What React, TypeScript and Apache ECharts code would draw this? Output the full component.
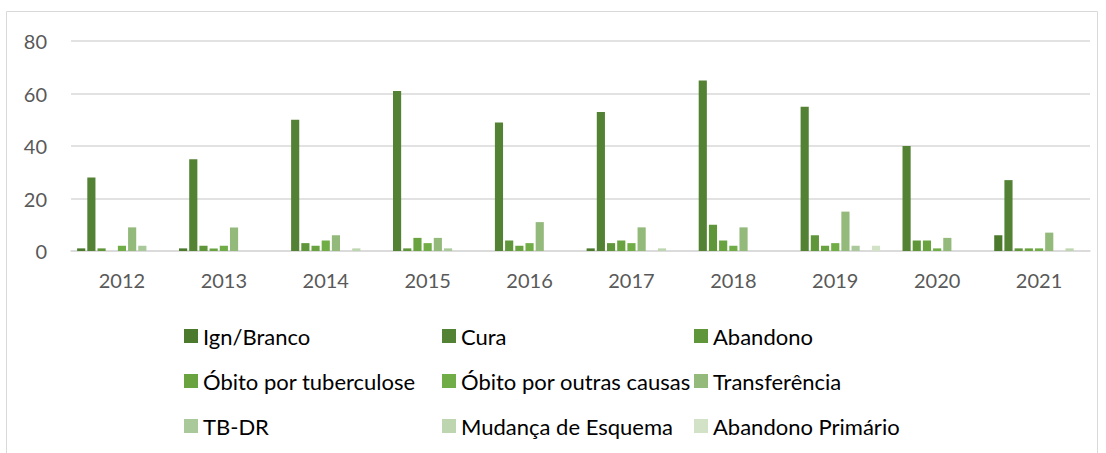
import React, { useEffect, useRef } from "react";
import * as echarts from "echarts";

const years = ["2012", "2013", "2014", "2015", "2016", "2017", "2018", "2019", "2020", "2021"];
const seriesNames = [
  "Ign/Branco",
  "Cura",
  "Abandono",
  "Óbito por tuberculose",
  "Óbito por outras causas",
  "Transferência",
  "TB-DR",
  "Mudança de Esquema",
  "Abandono Primário",
];
const ignBranco = [1, 1, 0, 0, 0, 1, 0, 0, 0, 6];
const cura = [28, 35, 50, 61, 49, 53, 65, 55, 40, 27];
const abandono = [1, 2, 3, 1, 4, 3, 10, 6, 4, 1];
const obitoTb = [0, 1, 2, 5, 2, 4, 4, 2, 4, 1];
const obitoOutras = [2, 2, 4, 3, 3, 3, 2, 3, 1, 1];
const transferencia = [9, 9, 6, 5, 11, 9, 9, 15, 5, 7];
const tbdr = [2, 0, 0, 1, 0, 0, 0, 2, 0, 0];
const mudanca = [0, 0, 1, 0, 0, 1, 0, 0, 0, 1];
const abandonoPrimario = [0, 0, 0, 0, 0, 0, 0, 2, 0, 0];
const yTicks = [0, 20, 40, 60, 80];

const seriesData = [ignBranco, cura, abandono, obitoTb, obitoOutras, transferencia, tbdr, mudanca, abandonoPrimario];
const colors = ["#4b7a2d", "#548235", "#5f9639", "#68a33f", "#70ad47", "#93b97b", "#a9c99a", "#bdd6af", "#d1e2c7"];

const FONT = "Lato";

export default function App() {
  const ref = useRef<HTMLDivElement>(null);
  useEffect(() => {
    if (!ref.current) return;
    const chart = echarts.init(ref.current, undefined, { renderer: "svg" });
    const legendCol = (names: string[], left: number) => ({
      orient: "vertical",
      left,
      top: 325,
      padding: 0,
      itemGap: 23,
      itemWidth: 14,
      itemHeight: 14,
      icon: "rect",
      data: names,
      textStyle: { fontFamily: FONT, fontSize: 22, color: "#000", lineHeight: 22 },
    });
    chart.setOption({
      animation: false,
      color: colors,
      graphic: [
        {
          type: "rect",
          shape: { x: 6.5, y: 11.5, width: 1091, height: 470 },
          style: { fill: "none", stroke: "#d9d9d9", lineWidth: 1 },
          silent: true,
        },
      ],
      legend: [
        legendCol([seriesNames[0], seriesNames[3], seriesNames[6]], 184),
        legendCol([seriesNames[1], seriesNames[4], seriesNames[7]], 442),
        legendCol([seriesNames[2], seriesNames[5], seriesNames[8]], 694),
      ],
      grid: { left: 71, right: 16, top: 41, bottom: 202, containLabel: false },
      xAxis: {
        type: "category",
        data: years,
        axisLine: { show: true, lineStyle: { color: "#d9d9d9", width: 1.5 } },
        axisTick: { show: false },
        axisLabel: { fontFamily: FONT, fontSize: 20, color: "#595959", margin: 19 },
      },
      yAxis: {
        type: "value",
        min: yTicks[0],
        max: yTicks[yTicks.length - 1],
        interval: 20,
        axisLine: { show: false },
        axisTick: { show: false },
        splitLine: { lineStyle: { color: "#d9d9d9", width: 1.5 } },
        axisLabel: { fontFamily: FONT, fontSize: 20, color: "#595959", margin: 24 },
      },
      series: seriesNames.map((name, i) => ({
        name,
        type: "bar",
        data: seriesData[i],
        barCategoryGap: "12%",
        barGap: "25%",
        itemStyle: { color: colors[i] },
      })),
    });
    return () => chart.dispose();
  }, []);
  return (
    <div style={{ position: "fixed", left: 0, top: 0, width: 1106, height: 453, background: "#fff" }}>
      <div ref={ref} style={{ width: 1106, height: 453 }} />
    </div>
  );
}
